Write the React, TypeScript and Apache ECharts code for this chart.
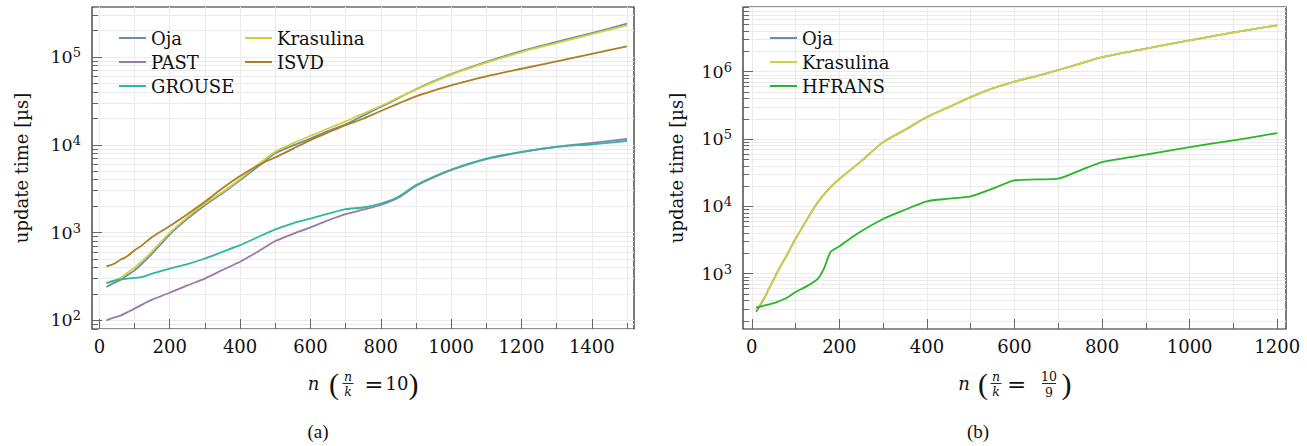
import React, { useEffect, useRef } from "react";
import * as echarts from "echarts";

// ---------- data: left panel (n/k = 10) ----------
const nLeft = [20, 40, 60, 80, 100, 120, 150, 200, 250, 300, 350, 400, 450, 500, 550, 600, 650, 700, 750, 800, 850, 900, 950, 1000, 1100, 1200, 1300, 1400, 1500];
const ojaLeft = [240, 265, 288, 328, 371, 438, 575, 950, 1430, 2050, 2800, 3950, 5600, 8000, 9800, 11800, 14300, 17100, 21500, 27000, 34000, 43000, 53000, 64000, 88000, 117000, 149000, 188000, 240000];
const krasulinaLeft = [266, 283, 305, 350, 398, 468, 611, 990, 1500, 2140, 2900, 4080, 5900, 8350, 10400, 12650, 15300, 18500, 22700, 27700, 34500, 42500, 52000, 63000, 86300, 114000, 144500, 183000, 229000];
const pastLeft = [100, 107, 113, 124, 136, 150, 172, 206, 250, 299, 374, 465, 605, 800, 965, 1145, 1380, 1625, 1820, 2060, 2490, 3390, 4250, 5160, 6870, 8230, 9500, 10500, 11650];
const isvdLeft = [412, 438, 490, 540, 628, 710, 891, 1185, 1620, 2240, 3200, 4400, 5800, 7200, 9000, 11300, 13800, 16800, 19800, 24300, 29500, 35700, 41500, 47600, 60300, 73600, 89300, 109000, 132000];
const grouseLeft = [266, 282, 292, 299, 304, 310, 340, 388, 437, 506, 603, 718, 885, 1085, 1275, 1445, 1640, 1850, 1930, 2140, 2560, 3470, 4320, 5230, 6960, 8300, 9450, 10150, 11050];

// ---------- data: right panel (n/k = 10/9) ----------
const nRight = [10, 20, 30, 40, 50, 60, 80, 100, 125, 150, 175, 200, 250, 300, 350, 400, 450, 500, 550, 600, 650, 700, 750, 800, 900, 1000, 1100, 1200];
const ojaRight = [270, 345, 450, 615, 820, 1100, 1880, 3300, 6200, 11300, 17900, 25500, 47000, 90000, 137000, 212000, 298000, 420000, 565000, 710000, 860000, 1060000, 1320000, 1640000, 2200000, 2920000, 3840000, 4880000];
const krasulinaRight = [300, 358, 458, 620, 825, 1100, 1880, 3300, 6200, 11300, 17900, 25500, 47000, 90000, 137000, 212000, 298000, 420000, 565000, 710000, 860000, 1060000, 1320000, 1640000, 2200000, 2920000, 3840000, 4880000];
const nHfrans = [10, 20, 30, 40, 50, 60, 80, 100, 125, 150, 165, 180, 200, 240, 300, 350, 400, 450, 500, 550, 600, 650, 700, 750, 800, 900, 1000, 1100, 1200];
const hfrans = [313, 325, 338, 350, 365, 385, 440, 535, 649, 830, 1200, 2100, 2550, 3900, 6500, 8900, 11900, 13000, 14100, 18300, 24300, 25100, 25800, 34300, 45500, 58500, 76000, 95500, 122700];

// ---------- ticks ----------
const xTicksLeft = [0, 100, 200, 300, 400, 500, 600, 700, 800, 900, 1000, 1100, 1200, 1300, 1400, 1500];
const xLabelsLeft = [0, 200, 400, 600, 800, 1000, 1200, 1400];
const xTicksRight = [0, 100, 200, 300, 400, 500, 600, 700, 800, 900, 1000, 1100, 1200];
const xLabelsRight = [0, 200, 400, 600, 800, 1000, 1200];
const yMajorLeft = [100, 1000, 10000, 100000];
const yMinorLeft = [80, 90, 100, 200, 300, 400, 500, 600, 700, 800, 900, 1000, 2000, 3000, 4000, 5000, 6000, 7000, 8000, 9000, 10000, 20000, 30000, 40000, 50000, 60000, 70000, 80000, 90000, 100000, 200000, 300000];
const yMajorRight = [1000, 10000, 100000, 1000000];
const yMinorRight = [200, 300, 400, 500, 600, 700, 800, 900, 1000, 2000, 3000, 4000, 5000, 6000, 7000, 8000, 9000, 10000, 20000, 30000, 40000, 50000, 60000, 70000, 80000, 90000, 100000, 200000, 300000, 400000, 500000, 600000, 700000, 800000, 900000, 1000000, 2000000, 3000000, 4000000, 5000000, 6000000, 7000000, 8000000, 9000000];

const COLORS = {
  Oja: "#6a8ea6",
  Krasulina: "#d4cf3c",
  PAST: "#9b7aa9",
  ISVD: "#ad7e22",
  GROUSE: "#33b6a0",
  HFRANS: "#2bb52b",
};

const SERIF = "DejaVu Serif";
const TXT = "#111";
const GRIDC = "#ebebeb";
const TICKC = "#666";

function pairs(xs: number[], ys: number[]) {
  return xs.map((x, i) => [x, ys[i]]);
}

function xMinor(gridIndex: number, min: number, max: number, ticks: number[]) {
  return {
    type: "value", gridIndex, min, max, position: "bottom",
    axisLine: { show: false, onZero: false },
    axisTick: { show: true, inside: true, length: 6, customValues: ticks, lineStyle: { color: TICKC, width: 1 } },
    axisLabel: { show: false },
    splitLine: { show: true, lineStyle: { color: GRIDC, width: 1 } },
  };
}
function xMajor(gridIndex: number, min: number, max: number, labels: number[]) {
  return {
    type: "value", gridIndex, min, max, position: "bottom",
    axisLine: { show: false, onZero: false },
    axisTick: { show: true, inside: true, length: 10, customValues: labels, lineStyle: { color: TICKC, width: 1 } },
    axisLabel: {
      show: true, customValues: labels, margin: 8, fontFamily: SERIF, fontSize: 18, color: TXT,
      formatter: (v: number) => String(v),
    },
    splitLine: { show: false },
  };
}
const rich = {
  b: { fontFamily: SERIF, fontSize: 17.5, color: TXT, lineHeight: 22 },
  s: { fontFamily: SERIF, fontSize: 13, color: TXT, lineHeight: 12, verticalAlign: "top" },
};
function yMinor(gridIndex: number, min: number, max: number, ticks: number[]) {
  return {
    type: "log", logBase: 10, gridIndex, min, max, position: "left",
    axisLine: { show: false, onZero: false },
    axisTick: { show: true, inside: true, length: 6, customValues: ticks, lineStyle: { color: TICKC, width: 1 } },
    axisLabel: { show: false },
    splitLine: { show: true, lineStyle: { color: GRIDC, width: 1 } },
  };
}
function yMajor(gridIndex: number, min: number, max: number, labels: number[], nameGap: number) {
  return {
    type: "log", logBase: 10, gridIndex, min, max, position: "left",
    name: "update time [µs]", nameLocation: "middle", nameGap,
    nameTextStyle: { fontFamily: SERIF, fontSize: 18, color: TXT },
    axisLine: { show: false, onZero: false },
    axisTick: { show: true, inside: true, length: 10, customValues: labels, lineStyle: { color: TICKC, width: 1 } },
    axisLabel: {
      show: true, customValues: labels, margin: 11,
      formatter: (v: number) => `{b|10}{s|${Math.round(Math.log10(v))}}`,
      rich,
    },
    splitLine: { show: false },
  };
}

function line(name: string, data: number[][], xi: number, yi: number) {
  return {
    type: "line", name, data, xAxisIndex: xi, yAxisIndex: yi,
    symbol: "none", showSymbol: false, smooth: 0.25,
    lineStyle: { color: (COLORS as any)[name], width: 1.8, join: "round" },
    itemStyle: { color: (COLORS as any)[name] },
    emphasis: { disabled: true },
  };
}

const legendText = { fontFamily: SERIF, fontSize: 18, color: TXT, lineHeight: 20 };
function legend(names: string[], left: number) {
  return {
    data: names.map((n) => ({ name: n, icon: "rect" })),
    orient: "vertical", left, top: 28, padding: 0,
    itemWidth: 27, itemHeight: 2, itemGap: 4, textStyle: legendText,
    selectedMode: false,
  };
}

function t(text: string, x: number, y: number, font: string) {
  return { type: "text", x, y, style: { text, font, fill: TXT, align: "center", verticalAlign: "middle" } };
}
function bar(x1: number, x2: number, y: number) {
  return { type: "line", shape: { x1, y1: y, x2, y2: y }, style: { stroke: TXT, lineWidth: 0.9 } };
}

const BIG = `18px '${SERIF}'`;
const EQ = `23px '${SERIF}'`;
const ITAL = `italic 18px '${SERIF}'`;
const SMALLI = `italic 12.5px '${SERIF}'`;
const SMALL = `12.5px '${SERIF}'`;
const PAREN = `30px 'Liberation Serif'`;
const CAP = `19px 'Liberation Serif'`;

export default function App() {
  const ref = useRef<HTMLDivElement>(null);
  useEffect(() => {
    if (!ref.current) return;
    const chart = echarts.init(ref.current, undefined, { renderer: "svg" });
    chart.setOption({
      animation: false,
      backgroundColor: "#ffffff",
      grid: [
        { left: 92, top: 7, width: 542, height: 322, show: true, borderColor: "#222", borderWidth: 1.2, backgroundColor: "transparent" },
        { left: 743, top: 7, width: 543, height: 322, show: true, borderColor: "#222", borderWidth: 1.2, backgroundColor: "transparent" },
      ],
      xAxis: [
        xMinor(0, -21, 1520, xTicksLeft),
        xMajor(0, -21, 1520, xLabelsLeft),
        xMinor(1, -20, 1220, xTicksRight),
        xMajor(1, -20, 1220, xLabelsRight),
      ],
      yAxis: [
        yMinor(0, 79.6, 372000, yMinorLeft),
        yMajor(0, 79.6, 372000, yMajorLeft, 62),
        yMinor(1, 151, 9140000, yMinorRight),
        yMajor(1, 151, 9140000, yMajorRight, 58),
      ],
      legend: [
        legend(["Oja", "PAST", "GROUSE"], 119),
        legend(["Krasulina", "ISVD"], 245),
        legend(["Oja", "Krasulina", "HFRANS"], 770),
      ],
      series: [
        line("Oja", pairs(nLeft, ojaLeft), 0, 0),
        line("Krasulina", pairs(nLeft, krasulinaLeft), 0, 0),
        line("PAST", pairs(nLeft, pastLeft), 0, 0),
        line("ISVD", pairs(nLeft, isvdLeft), 0, 0),
        line("GROUSE", pairs(nLeft, grouseLeft), 0, 0),
        line("Oja", pairs(nRight, ojaRight), 2, 2),
        line("Krasulina", pairs(nRight, krasulinaRight), 2, 2),
        line("HFRANS", pairs(nHfrans, hfrans), 2, 2),
      ],
      graphic: [
        // left x-axis name: n ( n/k = 10 )
        t("n", 313.5, 383.5, ITAL),
        t("(", 334, 383, PAREN),
        t("n", 348, 376.5, SMALLI),
        bar(342.5, 353.5, 383.5),
        t("k", 348, 391.5, SMALLI),
        t("=", 374, 383.5, EQ),
        t("10", 397, 383.5, BIG),
        t(")", 413.5, 383, PAREN),
        // right x-axis name: n ( n/k = 10/9 )
        t("n", 964, 383.5, ITAL),
        t("(", 983, 383, PAREN),
        t("n", 996, 376.5, SMALLI),
        bar(990.5, 1001.5, 383.5),
        t("k", 996, 391.5, SMALLI),
        t("=", 1016.7, 383.5, EQ),
        t("10", 1049, 376.5, SMALL),
        bar(1042, 1056, 383.5),
        t("9", 1049, 392, SMALL),
        t(")", 1066.5, 383, PAREN),
        // captions
        t("(a)", 318, 431, CAP),
        t("(b)", 978, 431, CAP),
      ],
    });
    return () => chart.dispose();
  }, []);
  return (
    <div
      ref={ref}
      style={{ position: "fixed", left: 0, top: 0, width: 1307, height: 446, background: "#fff" }}
    />
  );
}
